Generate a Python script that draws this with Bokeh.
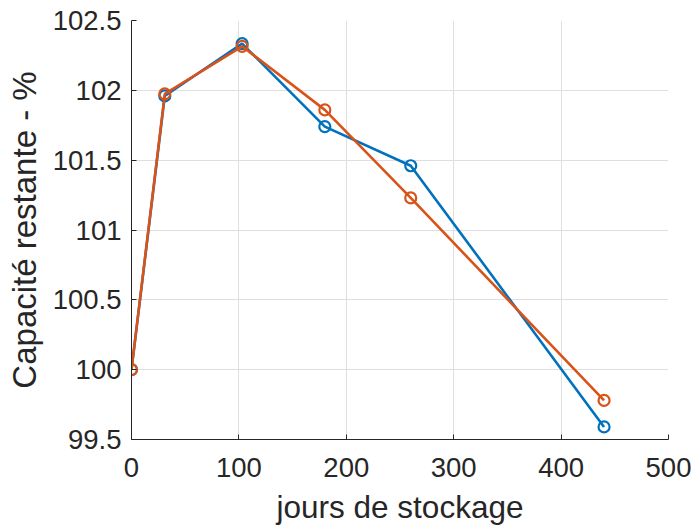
from bokeh.plotting import figure
from bokeh.embed import file_html
from bokeh.resources import INLINE
from bokeh.models import Range1d, FixedTicker

days = [0, 31, 103, 180, 260, 440]
series_blue = [100.0, 101.96, 102.335, 101.74, 101.46, 99.59]
series_orange = [100.0, 101.975, 102.315, 101.86, 101.23, 99.78]
x_ticks = [0, 100, 200, 300, 400, 500]
y_ticks = [99.5, 100, 100.5, 101, 101.5, 102, 102.5]
y_tick_labels = ["99.5", "100", "100.5", "101", "101.5", "102", "102.5"]
x_label = "jours de stockage"
y_label = "Capacité restante - %"

BLUE = "#0072BD"
ORANGE = "#D95319"
FONT = "Liberation Sans"
TXT = "#262626"

p = figure(width=693, height=527, output_backend="svg", toolbar_location=None,
           x_range=Range1d(0, 500), y_range=Range1d(99.5, 102.5),
           min_border_left=131, min_border_right=25, min_border_top=20,
           min_border_bottom=88)
p.outline_line_color = None
p.background_fill_color = "white"
p.border_fill_color = "white"

for ax in (p.xaxis[0], p.yaxis[0]):
    ax.axis_line_color = TXT
    ax.axis_line_width = 1
    ax.major_tick_line_color = TXT
    ax.major_tick_in = 5
    ax.major_tick_out = 0
    ax.minor_tick_line_color = None
    ax.major_label_text_font = FONT
    ax.major_label_text_font_size = "27.5px"
    ax.major_label_text_color = TXT
    ax.axis_label_text_font = FONT
    ax.axis_label_text_font_style = "normal"
    ax.axis_label_text_color = TXT

p.xaxis.axis_label_text_font_size = "31.5px"
p.yaxis.axis_label_text_font_size = "33px"
p.xaxis.ticker = FixedTicker(ticks=x_ticks)
p.yaxis.ticker = FixedTicker(ticks=y_ticks)
p.yaxis.major_label_overrides = {t: l for t, l in zip(y_ticks, y_tick_labels)}
p.xaxis.axis_label = x_label
p.yaxis.axis_label = y_label
p.xaxis.major_label_standoff = 18
p.yaxis.major_label_standoff = 10
p.xaxis.axis_label_standoff = 9
p.yaxis.axis_label_standoff = 7

p.xgrid.ticker = FixedTicker(ticks=x_ticks)
p.ygrid.ticker = FixedTicker(ticks=y_ticks)
for g in (p.xgrid[0], p.ygrid[0]):
    g.grid_line_color = "#dfdfdf"
    g.grid_line_width = 1

for ys, c in ((series_blue, BLUE), (series_orange, ORANGE)):
    p.line(days, ys, line_color=c, line_width=2.6)
    p.scatter(days, ys, marker="circle", size=11, fill_color=None,
              line_color=c, line_width=2.2)

open("out.html", "w").write(file_html(p, INLINE))
